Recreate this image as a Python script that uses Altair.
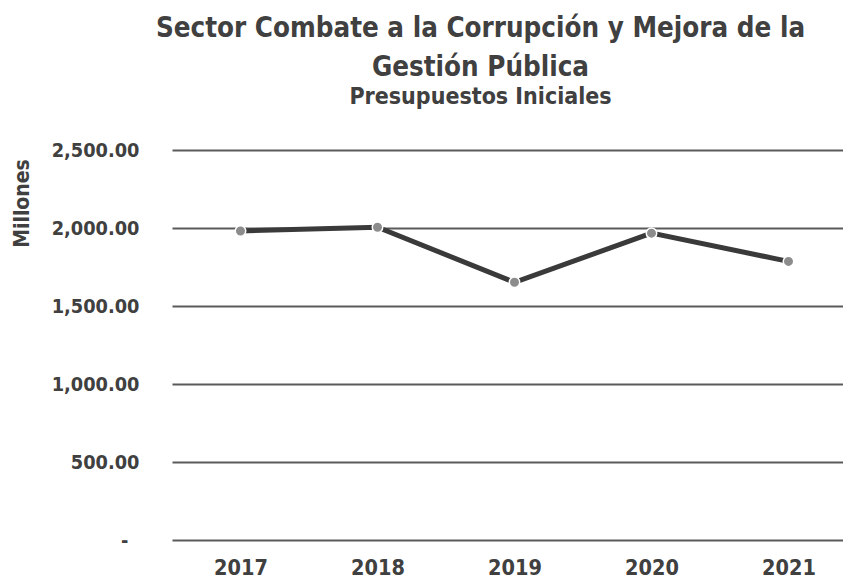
import altair as alt
import pandas as pd

years = [2017, 2018, 2019, 2020, 2021]
values = [1981, 2005, 1652, 1967, 1786]

df = pd.DataFrame({"year": years, "value": values})

FONT = "Liberation Sans Narrow, Arial Narrow, DejaVu Sans Condensed, sans-serif"
TXT = "#404040"

x = alt.X("year:Q",
          scale=alt.Scale(domain=[2016.5, 2016.5 + 671 / 137], nice=False, zero=False),
          axis=alt.Axis(values=years, format="d", title=None, grid=False, domain=False,
                        ticks=False, labelPadding=17, labelFontSize=21.5, labelFont=FONT,
                        labelFontWeight="bold", labelColor=TXT))
y = alt.Y("value:Q",
          scale=alt.Scale(domain=[0, 2500], nice=False),
          axis=alt.Axis(values=[0, 500, 1000, 1500, 2000, 2500],
                        labelExpr="datum.value == 0 ? '-' : format(datum.value, ',.2f')",
                        title="Millones", titleFont=FONT, titleFontSize=21, titleFontWeight="bold",
                        titleColor=TXT, titleAngle=-90, titleX=-150, titleY=53,
                        titleAlign="center", titleBaseline="middle",
                        grid=True, gridColor="#5a5a5a", gridWidth=2, domain=False, ticks=False,
                        labelPadding={"condition": {"test": "datum.value == 0", "value": 44},
                                      "value": 33},
                        labelFontSize=19.8, labelFont=FONT,
                        labelFontWeight="bold", labelColor=TXT))

line = alt.Chart(df).mark_line(color="#3a3a3a", strokeWidth=5).encode(x=x, y=y)
pts = alt.Chart(df).mark_point(filled=True, color="#8c8c8c", size=110, opacity=1,
                               stroke="white", strokeWidth=1.5).encode(x=x, y=y)

chart = (line + pts).properties(
    width=671, height=390,
    padding={"left": 164, "top": 142, "right": 0, "bottom": 40},
    autosize=alt.AutoSizeParams(type="none"),
    title=alt.TitleParams(
        text=["Sector Combate a la Corrupción y Mejora de la", "Gestión Pública"],
        subtitle="Presupuestos Iniciales",
        font=FONT, fontSize=27.5, fontWeight="bold", color=TXT, lineHeight=39,
        subtitleFont=FONT, subtitleFontSize=23, subtitleFontWeight="bold", subtitleColor=TXT,
        subtitlePadding=5, anchor="middle", dx=-27, offset=31,
    ),
).configure(background="white", view=alt.ViewConfig(stroke=None))

chart.save("out.html", embed_options={"renderer": "svg", "actions": False})
